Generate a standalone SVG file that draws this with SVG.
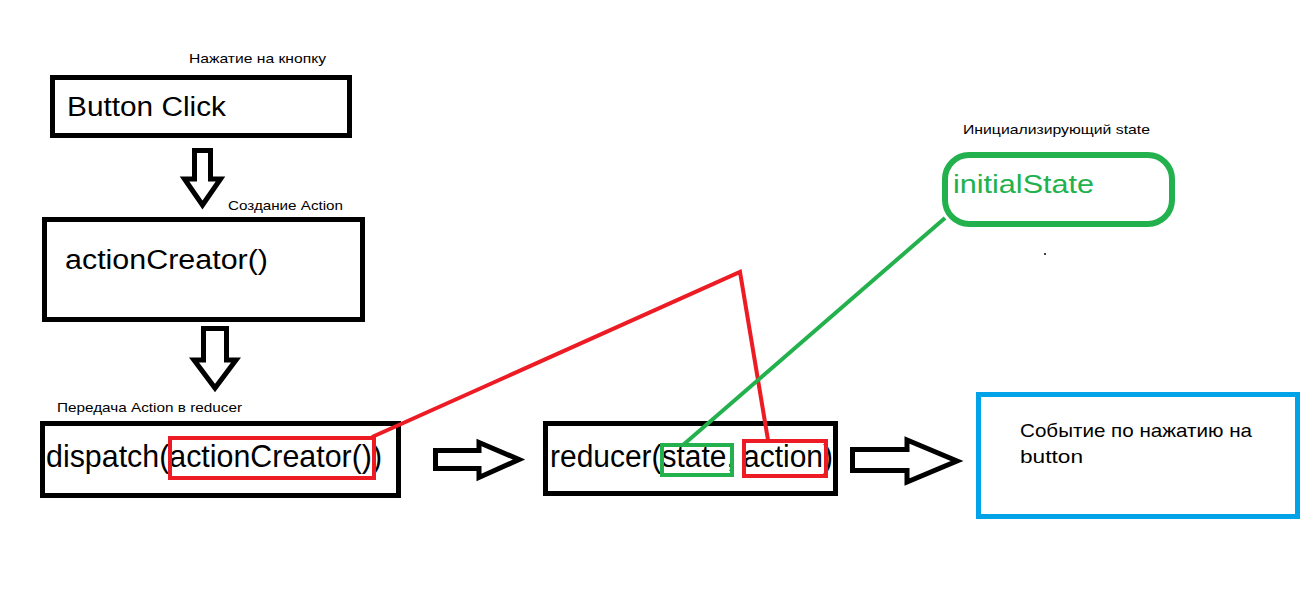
<svg xmlns="http://www.w3.org/2000/svg" width="1316" height="591" viewBox="0 0 1316 591">
<style>
.box{fill:#fff;stroke:#000;stroke-width:5}
.arr{fill:#fff;stroke:#000;stroke-width:5;stroke-linejoin:miter;stroke-miterlimit:4}
.t{font-family:"Liberation Sans",Arial,sans-serif;fill:#000}
.sm{font-size:13px}
.red{fill:none;stroke:#ED1C24;stroke-width:4}
.grn{fill:none;stroke:#22B14C;stroke-width:4}
</style>
<rect width="1316" height="591" fill="#fff"/>
<g id="button-click">
<rect class="box" x="52.5" y="77.5" width="297" height="58"/>
<text class="t" x="67" y="116" font-size="27" textLength="159" lengthAdjust="spacingAndGlyphs">Button Click</text>
<text class="t sm" x="189" y="63" textLength="137" lengthAdjust="spacingAndGlyphs">Нажатие на кнопку</text>
</g>
<g id="action-creator">
<rect class="box" x="44.5" y="219.5" width="318" height="100"/>
<text class="t" x="65" y="269" font-size="27" textLength="203" lengthAdjust="spacingAndGlyphs">actionCreator()</text>
<text class="t sm" x="228" y="210" textLength="115" lengthAdjust="spacingAndGlyphs">Создание Action</text>
</g>
<g id="dispatch">
<rect class="box" x="42.5" y="423.5" width="356" height="72"/>
<text class="t" x="46" y="467" font-size="32" textLength="336" lengthAdjust="spacingAndGlyphs">dispatch(actionCreator())</text>
<text class="t sm" x="57" y="412" textLength="185" lengthAdjust="spacingAndGlyphs">Передача Action в reducer</text>
<rect class="red" x="170" y="438" width="204" height="40"/>
</g>
<g id="reducer">
<rect class="box" x="545.5" y="423.5" width="290" height="70"/>
<text class="t" x="550" y="467" font-size="31" textLength="283" lengthAdjust="spacingAndGlyphs">reducer(state, action)</text>
<rect class="grn" x="662" y="445" width="70" height="30"/>
<rect class="red" x="744" y="441" width="82" height="35"/>
</g>
<g id="initial-state">
<rect x="945" y="155" width="227" height="69" rx="24" ry="24" fill="#fff" stroke="#22B14C" stroke-width="6"/>
<text class="t" x="953" y="193" font-size="25" fill="#22B14C" style="fill:#22B14C" textLength="141" lengthAdjust="spacingAndGlyphs">initialState</text>
<text class="t sm" x="963" y="134" textLength="187" lengthAdjust="spacingAndGlyphs">Инициализирующий state</text>
<circle cx="1045" cy="254" r="1" fill="#000"/>
</g>
<g id="event">
<rect x="978.5" y="394.5" width="319" height="122" fill="#fff" stroke="#00A2E8" stroke-width="5"/>
<text class="t" x="1020" y="437" font-size="19" textLength="232" lengthAdjust="spacingAndGlyphs">Событие по нажатию на</text>
<text class="t" x="1020" y="463" font-size="19" textLength="63" lengthAdjust="spacingAndGlyphs">button</text>
</g>
<g id="connectors">
<polygon class="arr" points="194.5,150.5 210.5,150.5 210.5,179 220.5,179 202.5,205 184.5,179 194.5,179"/>
<polygon class="arr" points="203.5,328.5 226.5,328.5 226.5,360 236,360 215,388 194,360 203.5,360"/>
<polygon class="arr" points="435.5,450.5 479,450.5 479,442.5 519,459.5 479,477.5 479,468.5 435.5,468.5"/>
<polygon class="arr" points="852.5,449.5 907,449.5 907,440 957,461 907,482 907,470.5 852.5,470.5"/>
<polyline class="red" points="372,437 740,272 768,440"/>
<line class="grn" x1="945" y1="218" x2="683" y2="445"/>
</g>
</svg>
